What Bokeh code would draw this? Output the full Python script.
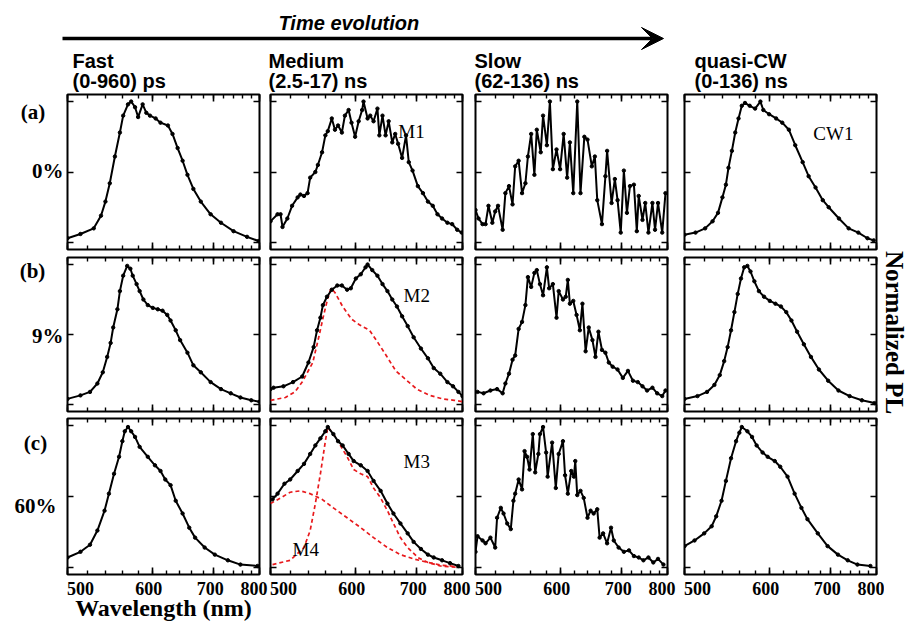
from bokeh.plotting import figure
from bokeh.models import (Range1d, FixedTicker, LinearAxis, Label, Arrow, VeeHead,
                          ColumnDataSource, CustomJSTickFormatter)
from bokeh.layouts import row, column
from bokeh.embed import file_html
from bokeh.resources import INLINE

EV = 1239.84  # eV*nm : the abscissa is linear in photon energy, labelled in wavelength

MAJOR_WL = [500, 600, 700, 800]
MINOR_WL = [500, 520, 540, 560, 580, 600, 620, 640, 660, 680, 700, 720, 740, 760, 780, 800]
Y_TICKS = [0.0, 0.5, 1.0]

COLUMN_TITLES = ["Fast", "Medium", "Slow", "quasi-CW"]
COLUMN_WINDOWS = ["(0-960) ps", "(2.5-17) ns", "(62-136) ns", "(0-136) ns"]
ROW_TAGS = ["(a)", "(b)", "(c)"]
ROW_CONC = ["0%", "9%", "60%"]

# ---- row (a) 0% ----
FAST_A_WL = [500, 513, 527, 535, 540, 545, 551, 557, 561, 567, 571, 576, 580, 586, 591, 596, 604, 611, 622, 629, 637, 645, 653, 663, 676, 694, 714, 740, 770, 798]
FAST_A_PL = [0.03, 0.06, 0.10, 0.19, 0.29, 0.42, 0.61, 0.78, 0.90, 0.98, 1.00, 0.96, 0.89, 0.98, 0.92, 0.90, 0.88, 0.85, 0.83, 0.77, 0.67, 0.58, 0.48, 0.38, 0.29, 0.20, 0.14, 0.08, 0.04, 0.01]

MED_A_WL = [500, 507, 510, 512, 517, 522, 528, 531, 535, 539, 542, 548, 551, 556, 560, 563, 568, 572, 576, 581, 585, 590, 594, 599, 604, 609, 611, 617, 621, 626, 632, 635, 640, 645, 650, 656, 661, 666, 673, 680, 685, 692, 702, 712, 722, 732, 742, 752, 764, 775, 787, 798]
MED_A_PL = [0.15, 0.20, 0.20, 0.11, 0.17, 0.26, 0.32, 0.34, 0.33, 0.35, 0.46, 0.50, 0.55, 0.64, 0.76, 0.79, 0.88, 0.80, 0.83, 0.78, 0.90, 0.94, 0.85, 0.75, 0.86, 0.94, 1.00, 0.88, 0.90, 0.86, 0.95, 0.76, 0.90, 0.76, 0.86, 0.71, 0.77, 0.70, 0.60, 0.76, 0.57, 0.51, 0.40, 0.35, 0.29, 0.26, 0.20, 0.17, 0.14, 0.13, 0.09, 0.07]

SLOW_A_WL = [500, 503, 507, 510, 513, 517, 520, 523, 528, 531, 535, 539, 542, 546, 550, 554, 557, 561, 565, 568, 573, 576, 581, 585, 589, 594, 599, 604, 609, 613, 618, 624, 629, 635, 640, 647, 652, 656, 664, 670, 673, 681, 687, 692, 698, 704, 710, 716, 724, 730, 734, 742, 748, 755, 764, 770, 777, 787, 795]
SLOW_A_PL = [0.23, 0.17, 0.13, 0.13, 0.26, 0.14, 0.22, 0.26, 0.09, 0.35, 0.40, 0.27, 0.54, 0.58, 0.35, 0.42, 0.61, 0.77, 0.48, 0.80, 0.64, 0.90, 0.69, 1.00, 0.52, 0.66, 0.52, 0.77, 0.46, 0.71, 0.35, 1.00, 0.35, 0.75, 0.73, 0.54, 0.61, 0.30, 0.13, 0.47, 0.65, 0.28, 0.45, 0.30, 0.07, 0.51, 0.21, 0.40, 0.41, 0.08, 0.33, 0.16, 0.28, 0.07, 0.28, 0.09, 0.28, 0.07, 0.35]

CW_A_WL = [500, 511, 521, 529, 535, 540, 544, 547, 551, 555, 559, 563, 567, 573, 580, 587, 591, 599, 609, 618, 628, 638, 650, 660, 672, 685, 696, 716, 736, 757, 778, 793]
CW_A_PL = [0.055, 0.07, 0.10, 0.15, 0.21, 0.32, 0.41, 0.53, 0.65, 0.78, 0.88, 0.97, 0.99, 0.97, 0.95, 1.00, 0.94, 0.91, 0.88, 0.85, 0.80, 0.69, 0.57, 0.47, 0.39, 0.30, 0.25, 0.17, 0.10, 0.07, 0.03, 0.015]

# ---- row (b) 9% ----
FAST_B_WL = [500, 513, 523, 531, 537, 542, 546, 549, 554, 557, 561, 566, 570, 573, 578, 582, 587, 593, 600, 607, 614, 621, 626, 634, 641, 653, 663, 676, 694, 714, 734, 755, 780, 800]
FAST_B_PL = [0.04, 0.065, 0.09, 0.15, 0.23, 0.34, 0.44, 0.55, 0.68, 0.81, 0.92, 0.99, 0.97, 0.92, 0.86, 0.81, 0.75, 0.71, 0.69, 0.68, 0.67, 0.64, 0.60, 0.53, 0.46, 0.37, 0.28, 0.23, 0.16, 0.11, 0.08, 0.05, 0.03, 0.02]

MED_B_WL = [500, 503, 513, 523, 533, 540, 546, 550, 554, 557, 562, 568, 575, 581, 588, 593, 600, 607, 614, 617, 624, 632, 640, 648, 656, 664, 673, 683, 694, 708, 722, 734, 748, 764, 777, 790, 800]
MED_B_PL = [0.11, 0.12, 0.13, 0.16, 0.20, 0.30, 0.41, 0.53, 0.62, 0.71, 0.77, 0.82, 0.85, 0.85, 0.82, 0.83, 0.90, 0.93, 0.98, 1.00, 0.96, 0.92, 0.86, 0.81, 0.75, 0.70, 0.63, 0.56, 0.48, 0.40, 0.33, 0.26, 0.22, 0.16, 0.13, 0.09, 0.06]

FIT_B1_WL = [500, 515, 525, 533, 545, 552, 558, 563, 567, 572, 582, 594, 605, 620, 633, 646, 662, 682, 700, 726, 753, 780, 800]
FIT_B1_PL = [0.03, 0.05, 0.09, 0.16, 0.30, 0.48, 0.64, 0.76, 0.83, 0.80, 0.70, 0.61, 0.57, 0.53, 0.44, 0.35, 0.24, 0.17, 0.11, 0.065, 0.04, 0.03, 0.02]

SLOW_B_WL = [502, 508, 515, 522, 528, 531, 535, 539, 542, 546, 550, 554, 557, 561, 565, 568, 572, 576, 581, 584, 589, 594, 597, 603, 607, 610, 613, 618, 623, 628, 632, 637, 642, 648, 653, 658, 664, 670, 676, 683, 692, 702, 712, 722, 732, 742, 752, 764, 775, 787, 795]
SLOW_B_PL = [0.09, 0.08, 0.10, 0.11, 0.08, 0.15, 0.22, 0.32, 0.35, 0.54, 0.59, 0.71, 0.91, 0.84, 0.94, 0.96, 0.86, 0.78, 0.98, 0.83, 0.86, 0.62, 0.81, 0.75, 0.77, 0.89, 0.72, 0.74, 0.64, 0.53, 0.72, 0.38, 0.55, 0.46, 0.34, 0.52, 0.39, 0.37, 0.30, 0.27, 0.25, 0.19, 0.24, 0.17, 0.16, 0.13, 0.10, 0.12, 0.08, 0.06, 0.10]

CW_B_WL = [500, 513, 523, 531, 537, 542, 546, 550, 554, 558, 562, 566, 570, 574, 579, 585, 592, 600, 608, 616, 624, 632, 641, 652, 664, 678, 695, 715, 738, 765, 795]
CW_B_PL = [0.04, 0.06, 0.09, 0.14, 0.21, 0.31, 0.41, 0.53, 0.66, 0.79, 0.90, 0.98, 0.99, 0.95, 0.88, 0.81, 0.77, 0.74, 0.72, 0.70, 0.66, 0.60, 0.52, 0.43, 0.34, 0.25, 0.17, 0.10, 0.06, 0.03, 0.01]

# ---- row (c) 60% ----
FAST_C_WL = [500, 513, 523, 531, 539, 544, 550, 556, 560, 563, 567, 571, 576, 582, 593, 603, 611, 618, 626, 634, 645, 656, 666, 683, 702, 728, 755, 795]
FAST_C_PL = [0.07, 0.11, 0.16, 0.26, 0.40, 0.52, 0.66, 0.78, 0.89, 0.96, 0.99, 0.96, 0.92, 0.85, 0.78, 0.72, 0.68, 0.62, 0.58, 0.47, 0.38, 0.28, 0.21, 0.14, 0.09, 0.05, 0.02, 0.01]

MED_C_WL = [502, 507, 514, 520, 528, 535, 542, 548, 554, 560, 563, 570, 576, 582, 590, 597, 607, 617, 626, 637, 648, 658, 670, 683, 694, 708, 722, 734, 752, 770, 790]
MED_C_PL = [0.48, 0.52, 0.59, 0.62, 0.68, 0.73, 0.80, 0.86, 0.91, 0.96, 0.99, 0.94, 0.89, 0.86, 0.80, 0.75, 0.72, 0.68, 0.61, 0.54, 0.45, 0.38, 0.31, 0.24, 0.18, 0.13, 0.09, 0.07, 0.05, 0.03, 0.01]

FIT_M3_WL = [502, 520, 535, 542, 548, 554, 560, 563, 570, 578, 588, 597, 607, 617, 626, 637, 648, 658, 670, 683, 702, 722, 748, 790]
FIT_M3_PL = [0.02, 0.05, 0.14, 0.26, 0.45, 0.66, 0.89, 0.99, 0.94, 0.87, 0.78, 0.69, 0.66, 0.64, 0.56, 0.49, 0.40, 0.31, 0.21, 0.14, 0.07, 0.035, 0.01, 0.0]
FIT_M4_WL = [500, 510, 520, 531, 542, 556, 570, 588, 607, 626, 648, 670, 694, 722, 752, 790]
FIT_M4_PL = [0.45, 0.49, 0.53, 0.54, 0.52, 0.48, 0.42, 0.35, 0.28, 0.21, 0.14, 0.09, 0.06, 0.035, 0.015, 0.005]

SLOW_C_WL = [500, 502, 507, 510, 515, 520, 522, 526, 529, 533, 537, 540, 542, 546, 550, 553, 556, 559, 563, 566, 570, 572, 576, 580, 582, 588, 593, 597, 603, 606, 610, 615, 619, 621, 624, 629, 634, 640, 645, 650, 656, 660, 666, 673, 680, 685, 694, 704, 714, 724, 734, 744, 755, 766, 777, 790]
SLOW_C_PL = [0.11, 0.22, 0.19, 0.17, 0.21, 0.14, 0.35, 0.42, 0.38, 0.31, 0.27, 0.47, 0.52, 0.62, 0.55, 0.82, 0.78, 0.69, 0.94, 0.67, 0.80, 0.94, 0.99, 0.81, 0.64, 0.88, 0.56, 0.80, 0.89, 0.65, 0.52, 0.68, 0.64, 0.75, 0.51, 0.54, 0.49, 0.35, 0.40, 0.38, 0.41, 0.21, 0.24, 0.17, 0.28, 0.19, 0.14, 0.11, 0.12, 0.08, 0.07, 0.05, 0.07, 0.035, 0.06, 0.02]

CW_C_WL = [500, 510, 520, 528, 533, 539, 544, 550, 556, 560, 563, 570, 576, 582, 590, 597, 607, 615, 626, 637, 648, 658, 676, 694, 714, 734, 755, 785]
CW_C_PL = [0.15, 0.19, 0.24, 0.29, 0.36, 0.47, 0.61, 0.77, 0.89, 0.95, 0.99, 0.96, 0.92, 0.86, 0.81, 0.78, 0.75, 0.71, 0.64, 0.52, 0.42, 0.34, 0.24, 0.15, 0.09, 0.05, 0.02, 0.01]

# panel annotations: (text, wavelength, height)
NOTES = {(0, 1): [("M1", 690, 0.79)], (0, 3): [("CW1", 705, 0.77)],
         (1, 1): [("M2", 700, 0.78)], (2, 1): [("M3", 700, 0.75), ("M4", 537, 0.125)]}

# ---------------- layout (pixels) ----------------
PAGE_W = 908
HEADER_H = 92
LEFT_W = 65
FRAME_W = 192
ROW_H = [155, 154, 156]
ROW_T = [2, 4, 4]
ROW_B = [4, 3, 48]
COL_L = [2, 2, 4, 8]
COL_R = [9, 9, 9, 4]
COL_R_LAST_ROW = [9, 9, 9, 8]
# horizontal nudge (px) of each tick label relative to its tick, as in the original
LABEL_SHIFT = {500: 13.0, 600: -4.0, 700: -3.5, 800: -5.5}

SERIF = "Liberation Serif"
SANS = "Liberation Sans"
X0, X1 = EV / 500, EV / 800
PX_E = (X0 - X1) / FRAME_W


def energy(wls):
    return [EV / w for w in wls]


def strip(w, h, x0, y0):
    s = figure(frame_width=w, frame_height=h,
               x_range=Range1d(x0, x0 + w), y_range=Range1d(y0 + h, y0),
               x_axis_location=None, y_axis_location=None,
               min_border=0, min_border_left=0, min_border_right=0,
               min_border_top=0, min_border_bottom=0,
               output_backend="svg", toolbar_location=None)
    s.outline_line_color = None
    s.grid.visible = False
    s.background_fill_color = "white"
    s.border_fill_color = "white"
    return s


def tick_axis(ticker, tin, mtin):
    return LinearAxis(ticker=ticker, axis_line_color=None,
                      major_tick_in=tin, major_tick_out=0,
                      minor_tick_in=mtin, minor_tick_out=0,
                      major_tick_line_width=1.6, minor_tick_line_width=1.4,
                      minor_tick_line_color="black" if mtin else None,
                      major_label_text_color=None, major_label_text_font_size="0px",
                      major_label_standoff=0, axis_label=None)


def panel(r, c, wl, pl, fits=()):
    right_border = COL_R_LAST_ROW[c] if r == 2 else COL_R[c]
    p = figure(frame_width=FRAME_W, frame_height=ROW_H[r],
               x_range=Range1d(X0, X1), y_range=Range1d(-0.05, 1.05),
               x_axis_location=None, y_axis_location=None,
               min_border_left=COL_L[c], min_border_right=right_border,
               min_border_top=ROW_T[r], min_border_bottom=ROW_B[r],
               output_backend="svg", toolbar_location=None)
    p.outline_line_color = "black"
    p.outline_line_width = 2
    p.grid.visible = False
    p.border_fill_color = "white"

    xt = FixedTicker(ticks=energy(MAJOR_WL), minor_ticks=energy(MINOR_WL))
    p.add_layout(tick_axis(xt, 7, 4), "above")
    p.add_layout(tick_axis(xt, 7, 4), "below")
    yt = FixedTicker(ticks=Y_TICKS, minor_ticks=[])
    p.add_layout(tick_axis(yt, 6, 0), "left")
    p.add_layout(tick_axis(yt, 6, 0), "right")

    if r == 2:
        lab_ticks = [EV / w - LABEL_SHIFT[w] * PX_E for w in MAJOR_WL]
        lab_axis = LinearAxis(
            ticker=FixedTicker(ticks=lab_ticks, minor_ticks=[]),
            formatter=CustomJSTickFormatter(code="return String(Math.round(1239.84 / tick / 100) * 100);"),
            axis_line_color=None, major_tick_line_color=None, minor_tick_line_color=None,
            major_tick_in=0, major_tick_out=0, minor_tick_in=0, minor_tick_out=0,
            major_label_standoff=7, major_label_text_font=SERIF,
            major_label_text_font_style="bold", major_label_text_font_size="18px",
            major_label_text_color="black")
        if c == 0:
            lab_axis.axis_label = "Wavelength (nm)"
            lab_axis.axis_label_standoff = -3
            lab_axis.axis_label_text_font = SERIF
            lab_axis.axis_label_text_font_style = "bold"
            lab_axis.axis_label_text_font_size = "24px"
            lab_axis.axis_label_text_color = "black"
        p.add_layout(lab_axis, "below")

    for fw, fp in fits:
        p.line(energy(fw), fp, line_color="#e8191c", line_width=1.7, line_dash="4 3")

    src = ColumnDataSource(dict(x=energy(wl), y=pl))
    p.line("x", "y", source=src, line_color="black", line_width=2)
    p.scatter("x", "y", source=src, size=3.4, marker="circle",
              fill_color="black", line_color="black")

    for t, w, h in NOTES.get((r, c), []):
        p.add_layout(Label(x=EV / w, y=h, text=t, text_align="center", text_baseline="middle",
                           text_font=SERIF, text_font_size="19px", text_color="black"))
    return p


DATA = [
    [(FAST_A_WL, FAST_A_PL, ()), (MED_A_WL, MED_A_PL, ()), (SLOW_A_WL, SLOW_A_PL, ()), (CW_A_WL, CW_A_PL, ())],
    [(FAST_B_WL, FAST_B_PL, ()), (MED_B_WL, MED_B_PL, ((FIT_B1_WL, FIT_B1_PL),)),
     (SLOW_B_WL, SLOW_B_PL, ()), (CW_B_WL, CW_B_PL, ())],
    [(FAST_C_WL, FAST_C_PL, ()), (MED_C_WL, MED_C_PL, ((FIT_M3_WL, FIT_M3_PL), (FIT_M4_WL, FIT_M4_PL))),
     (SLOW_C_WL, SLOW_C_PL, ()), (CW_C_WL, CW_C_PL, ())],
]

panel_rows = []
for r in range(3):
    panel_rows.append(row([panel(r, c, *DATA[r][c]) for c in range(4)], spacing=0))

top_h = sum(ROW_T[:2]) + sum(ROW_H[:2]) + sum(ROW_B[:2])
bot_h = ROW_T[2] + ROW_H[2] + ROW_B[2]
top_w = LEFT_W + sum(COL_L) + 4 * FRAME_W + sum(COL_R)
RIGHT_W = PAGE_W - top_w

# header strip: arrow, "Time evolution", column titles (pixel coordinates)
header = strip(PAGE_W, HEADER_H, 0, 0)
header.add_layout(Arrow(x_start=62, y_start=38, x_end=663, y_end=38, line_width=3.5,
                        line_color="black",
                        end=VeeHead(size=22, fill_color="black", line_color="black")))
header.add_layout(Label(x=278, y=22, text="Time evolution", text_font=SANS,
                        text_font_style="bold italic", text_font_size="20px",
                        text_baseline="middle", text_color="black"))
HEAD_X = [72, 268, 474, 694]
for i in range(4):
    header.add_layout(Label(x=HEAD_X[i], y=60, text=COLUMN_TITLES[i], text_font=SANS,
                            text_font_style="bold", text_font_size="20px",
                            text_baseline="middle", text_color="black"))
    header.add_layout(Label(x=HEAD_X[i], y=80, text=COLUMN_WINDOWS[i], text_font=SANS,
                            text_font_style="bold", text_font_size="20px",
                            text_baseline="middle", text_color="black"))

# left strips: row tags and concentrations
TAG_POS = [(32.5, 111), (32, 270), (35, 442)]
CONC_POS = [(63, 170), (63, 335), (56, 505)]
left_top = strip(LEFT_W, top_h, 0, HEADER_H)
left_bot = strip(LEFT_W, bot_h, 0, HEADER_H + top_h)
for i in range(3):
    target = left_top if i < 2 else left_bot
    target.add_layout(Label(x=TAG_POS[i][0], y=TAG_POS[i][1], text=ROW_TAGS[i], text_font=SERIF,
                            text_font_style="bold", text_font_size="21px", text_align="center",
                            text_baseline="middle", text_color="black"))
    target.add_layout(Label(x=CONC_POS[i][0], y=CONC_POS[i][1], text=ROW_CONC[i], text_font=SERIF,
                            text_font_style="bold", text_font_size="21px", text_align="right",
                            text_baseline="middle", text_color="black"))

# right strip beside rows (a) and (b): rotated y title
right = strip(RIGHT_W, top_h, top_w, HEADER_H)
right.add_layout(Label(x=894, y=332, text="Normalized PL", angle=-1.5708,
                       text_font=SERIF, text_font_style="bold", text_font_size="25px",
                       text_align="center", text_baseline="middle", text_color="black"))

page = column([header,
               row([left_top, column(panel_rows[:2], spacing=0), right], spacing=0),
               row([left_bot, panel_rows[2]], spacing=0)], spacing=0)

open("out.html", "w").write(file_html(page, INLINE))
